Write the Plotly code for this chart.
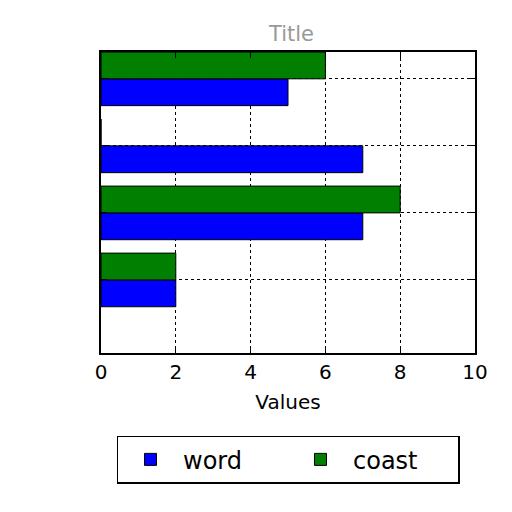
import plotly.graph_objects as go

# bar groups, bottom to top
positions = [0, 1, 2, 3]
word_values = [2, 7, 7, 5]
coast_values = [2, 8, 0, 6]
x_ticks = [0, 2, 4, 6, 8, 10]

fig = go.Figure()

fig.add_trace(go.Bar(
    y=positions,
    x=word_values,
    orientation="h",
    name="word",
    width=0.4,
    offset=-0.4,
    marker=dict(color="#0000ff", line=dict(color="black", width=1)),
))
fig.add_trace(go.Bar(
    y=positions,
    x=coast_values,
    orientation="h",
    name="coast",
    width=0.4,
    offset=0,
    marker=dict(color="#007f00", line=dict(color="black", width=1)),
))

# page body has an 8px margin, so the figure is 504px and shifted
fig.update_layout(
    width=504,
    height=504,
    margin=dict(l=93, r=37, t=44, b=159, autoexpand=False),
    paper_bgcolor="white",
    plot_bgcolor="white",
    font=dict(family="DejaVu Sans", color="black", size=19),
    barmode="overlay",
    title=dict(text="Title", x=0.5625, xanchor="center", y=0.95, yanchor="middle",
               font=dict(size=21, color="#999999")),
    xaxis=dict(
        range=[0, 10],
        tickvals=x_ticks,
        ticks="inside",
        ticklen=6,
        tickcolor="black",
        showline=True,
        linecolor="black",
        linewidth=1.5,
        mirror="ticks",
        showgrid=True,
        gridcolor="black",
        griddash="dot",
        gridwidth=1,
        zeroline=False,
        title=dict(text="Values", font=dict(size=20), standoff=12),
        tickfont=dict(size=20),
    ),
    yaxis=dict(
        range=[-1.09, 3.4],
        tickvals=positions,
        showticklabels=False,
        ticks="inside",
        ticklen=6,
        tickcolor="black",
        showline=True,
        linecolor="black",
        linewidth=1.5,
        mirror="ticks",
        showgrid=True,
        gridcolor="black",
        griddash="dot",
        gridwidth=1,
        zeroline=False,
    ),
    showlegend=True,
    legend=dict(
        orientation="h",
        x=0.5,
        xanchor="center",
        y=-0.275,
        yanchor="top",
        bordercolor="black",
        borderwidth=1.5,
        font=dict(size=24),
        itemwidth=55,
        entrywidth=100,
        entrywidthmode="pixels",
    ),
)

fig.write_html("out.html")
